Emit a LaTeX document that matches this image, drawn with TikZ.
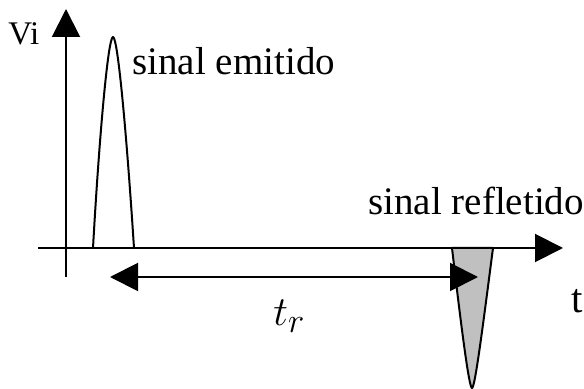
\documentclass[tikz,border=0pt]{standalone}
\usepackage{fontspec}
\setmainfont{Liberation Serif}
\usetikzlibrary{arrows.meta,positioning}
\definecolor{pulsegray}{RGB}{192,192,192}

\begin{document}
\begin{tikzpicture}[
  x=0.5pt, y=-0.5pt,
  every node/.style={font=\fontsize{19.5}{23}\selectfont, inner sep=0pt},
  axis/.style={line width=1pt, -{Triangle[length=14pt, width=14pt]}},
  pulse/.style={line width=1pt, line join=round},
  lbl/.style={anchor=base west}
]
  \useasboundingbox (0,0) rectangle (584,389);

  % axes
  \coordinate (vbot) at (66,277);
  \coordinate (vtop) at (66,9);
  \coordinate (hleft) at (38,248);
  \coordinate (hright) at (563,248);

  % reflected pulse (below the axis)
  \draw[pulse, fill=pulsegray] (452,248) .. controls (461,325) and (469,388) .. (472,388)
    .. controls (475,388) and (483,325) .. (493,248) -- cycle;

  % emitted pulse
  \draw[pulse] (93,248) .. controls (99,140) and (108,37) .. (113,37)
    .. controls (118,37) and (127,140) .. (134,248);

  \draw[axis] (vbot) -- (vtop);
  \draw[axis] (hleft) -- (hright);

  % labels
  \node[lbl, font=\fontsize{16.5}{20}\selectfont] (vi) at (8,45) {Vi};
  \node[lbl] (emit) at (132,75) {sinal emitido};
  \node[lbl] (refl) at (368,215) {sinal refletido};
  \node[lbl, font=\fontsize{20.5}{24}\selectfont] (tlbl) at (571,313) {t};

  % travel time
  \coordinate (trl) at (110,277);
  \coordinate (trr) at (478,277);
  \draw[line width=1pt, {Triangle[length=14pt, width=14pt]}-{Triangle[length=14pt, width=14pt]}] (trl) -- (trr);
  \node[lbl, font=\fontsize{22}{26}\selectfont] (tr) at (273,326)
    {$t_{\raisebox{0pt}{\fontsize{16}{19}\selectfont$r$}}$};
\end{tikzpicture}
\end{document}
